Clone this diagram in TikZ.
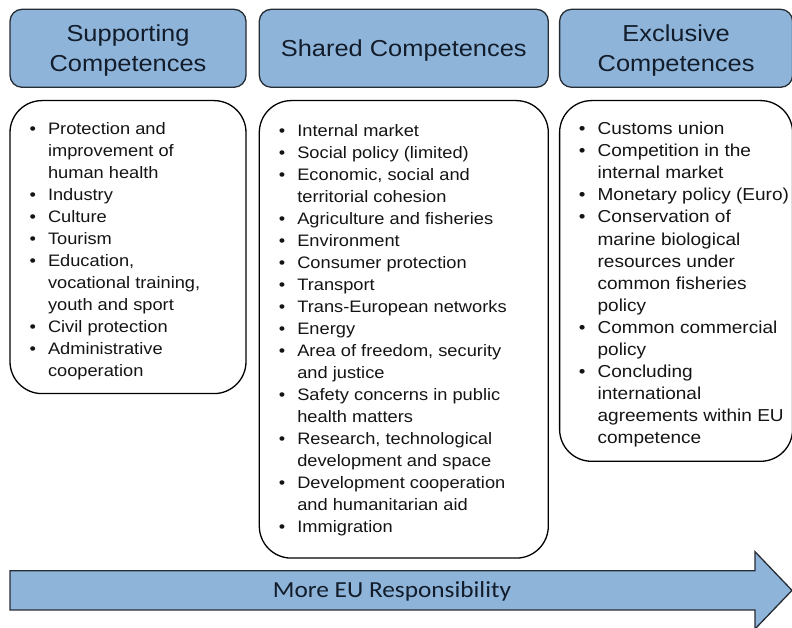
\documentclass[tikz,border=0pt]{standalone}
\usepackage{fontspec}
\setmainfont{Liberation Sans}[FakeStretch=1.1]
\newfontfamily\arrowfont{Carlito}[FakeStretch=1.1]
\usetikzlibrary{positioning}
\definecolor{compblue}{RGB}{142,180,217}
\definecolor{headink}{RGB}{18,28,42}
\definecolor{edge}{RGB}{38,44,52}
\tikzstyle{head} = [draw=edge, fill=compblue, line width=1.3pt, rounded corners=12pt,
minimum height=78pt, inner sep=0pt, align=center, text=headink, text depth=0pt,
font=\fontsize{23.1}{30}\selectfont]
\tikzstyle{box} = [draw=black, line width=1.3pt, rounded corners=32pt, inner sep=0pt,
text=black!92, font=\fontsize{16.6}{22}\selectfont]
\newenvironment{bullets}{\begin{list}{\textbullet}{\setlength\leftmargin{19pt}%
\setlength\labelsep{12pt}\setlength\labelwidth{7pt}\setlength\itemindent{0pt}%
\setlength\itemsep{0pt}\setlength\parsep{0pt}\setlength\topsep{0pt}\setlength\partopsep{0pt}}}%
{\end{list}}
\newcommand{\itembox}[4]{\hspace{19pt}\parbox[b][#1][t]{#2}{\raggedright\vspace{#3}%
\begin{bullets}#4\end{bullets}}}

\begin{document}
\begin{tikzpicture}[x=1pt, y=1pt,
	arrowbody/.style={draw=edge, fill=compblue, line width=1.3pt}]
	\useasboundingbox (0,0) rectangle (792,628);
	%% Headers
	\node[head, minimum width=236pt] (sup) at (128,579.7) {Supporting\\Competences};
	\node[head, minimum width=289pt, right=12pt of sup] (shared) {Shared Competences};
	\node[head, minimum width=233pt, right=10pt of shared] (excl) {Exclusive\\Competences};
	%% Lists
	\node[box, below=12pt of sup] (supList) {\itembox{293pt}{217pt}{22pt}{%
		\item Protection and\\ improvement of\\ human health
		\item Industry
		\item Culture
		\item Tourism
		\item Education,\\ vocational training,\\ youth and sport
		\item Civil protection
		\item Administrative\\ cooperation}};
	\node[box, below=12pt of shared] (sharedList) {\itembox{457.5pt}{270pt}{23.7pt}{%
		\item Internal market
		\item Social policy (limited)
		\item Economic, social and\\ territorial cohesion
		\item Agriculture and fisheries
		\item Environment
		\item Consumer protection
		\item Transport
		\item Trans-European networks
		\item Energy
		\item Area of freedom, security\\ and justice
		\item Safety concerns in public\\ health matters
		\item Research, technological\\ development and space
		\item Development cooperation\\ and humanitarian aid
		\item Immigration}};
	\node[box, below=12pt of excl, font=\fontsize{17.3}{22.1}\selectfont] (exclList) {\itembox{360.7pt}{214pt}{21.4pt}{%
		\item Customs union
		\item Competition in the\\ internal market
		\item Monetary policy (Euro)
		\item Conservation of\\ marine biological\\ resources under\\ common fisheries\\ policy
		\item Common commercial\\ policy
		\item Concluding\\ international\\ agreements within EU\\ competence}};
	%% Arrow
	\draw[arrowbody] (10,18) -- (755,18) -- (755,-1) -- (792,37.6) -- (755,76.3)
		-- (755,57.3) -- (10,57.3) -- cycle;
	\node[anchor=base, text=headink, font=\arrowfont\fontsize{23}{28}\selectfont] (resp) at (392,30) {More EU Responsibility};
\end{tikzpicture}
\end{document}
